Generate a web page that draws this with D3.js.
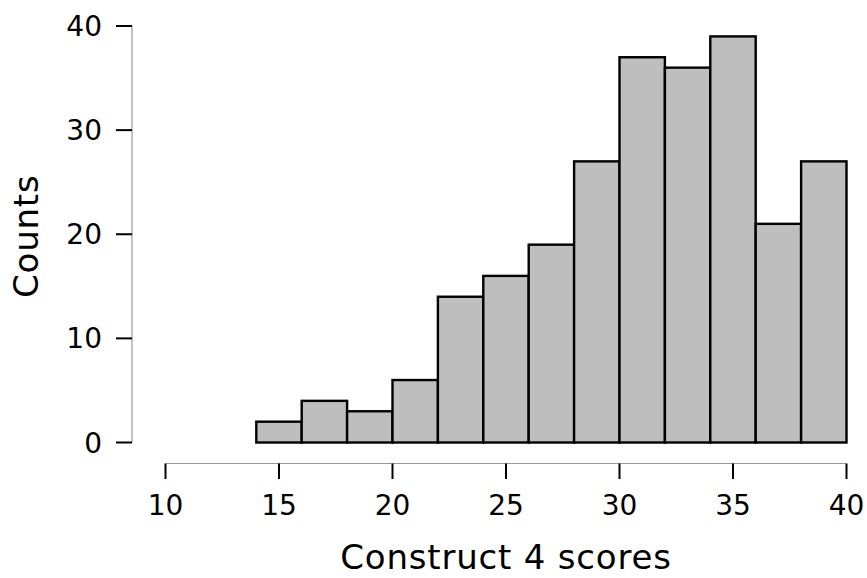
<!DOCTYPE html>
<html>
<head>
<meta charset="utf-8">
<script src="https://cdn.jsdelivr.net/npm/d3@7"></script>
<style>
  html, body { margin: 0; padding: 0; background: #fff; }
  svg text { font-family: "DejaVu Sans", sans-serif; fill: #000; }
</style>
</head>
<body>
<svg id="chart" width="867" height="578"></svg>
<script>
// Histogram of construct 4 scores, bins of width 2
const binStarts = [14, 16, 18, 20, 22, 24, 26, 28, 30, 32, 34, 36, 38];
const binWidth = 2;
const counts = [2, 4, 3, 6, 14, 16, 19, 27, 37, 36, 39, 21, 27];
const xTicks = [10, 15, 20, 25, 30, 35, 40];
const yTicks = [0, 10, 20, 30, 40];

const svg = d3.select("#chart");

const x = d3.scaleLinear().domain([10, 40]).range([165.5, 846.5]);
const y = d3.scaleLinear().domain([0, 40]).range([442.5, 26]);

// bars
svg.append("g")
  .selectAll("rect")
  .data(binStarts.map((s, i) => ({ s, c: counts[i] })))
  .join("rect")
  .attr("x", d => x(d.s))
  .attr("y", d => y(d.c))
  .attr("width", d => x(d.s + binWidth) - x(d.s))
  .attr("height", d => y(0) - y(d.c))
  .attr("fill", "#bebebe")
  .attr("stroke", "#000")
  .attr("stroke-width", 2.4);

// y axis: thin grey spine, black ticks
const yAxisX = 132;
const gy = svg.append("g");
gy.append("line")
  .attr("x1", yAxisX).attr("x2", yAxisX)
  .attr("y1", y(40)).attr("y2", y(0))
  .attr("stroke", "#999").attr("stroke-width", 1.2);
gy.selectAll("line.tick").data(yTicks).join("line")
  .attr("class", "tick")
  .attr("x1", 116).attr("x2", yAxisX)
  .attr("y1", d => y(d)).attr("y2", d => y(d))
  .attr("stroke", "#000").attr("stroke-width", 2);
gy.selectAll("text").data(yTicks).join("text")
  .attr("x", 102).attr("y", d => y(d))
  .attr("dy", "0.36em")
  .attr("text-anchor", "end")
  .attr("font-size", 28)
  .text(d => d);

// x axis
const xAxisY = 463.5;
const gx = svg.append("g");
gx.append("line")
  .attr("x1", x(10)).attr("x2", x(40))
  .attr("y1", xAxisY).attr("y2", xAxisY)
  .attr("stroke", "#999").attr("stroke-width", 1.2);
gx.selectAll("line.tick").data(xTicks).join("line")
  .attr("class", "tick")
  .attr("x1", d => x(d)).attr("x2", d => x(d))
  .attr("y1", xAxisY).attr("y2", 479)
  .attr("stroke", "#000").attr("stroke-width", 2);
gx.selectAll("text").data(xTicks).join("text")
  .attr("x", d => x(d)).attr("y", 515)
  .attr("text-anchor", "middle")
  .attr("font-size", 28)
  .text(d => d);

// axis titles
svg.append("text")
  .attr("x", (x(10) + x(40)) / 2).attr("y", 569)
  .attr("text-anchor", "middle")
  .attr("font-size", 34)
  .attr("letter-spacing", 0.8)
  .text("Construct 4 scores");

svg.append("text")
  .attr("transform", `translate(38, ${(y(0) + y(40)) / 2 + 2}) rotate(-90)`)
  .attr("text-anchor", "middle")
  .attr("font-size", 34)
  .attr("letter-spacing", 0.8)
  .text("Counts");
</script>
</body>
</html>
